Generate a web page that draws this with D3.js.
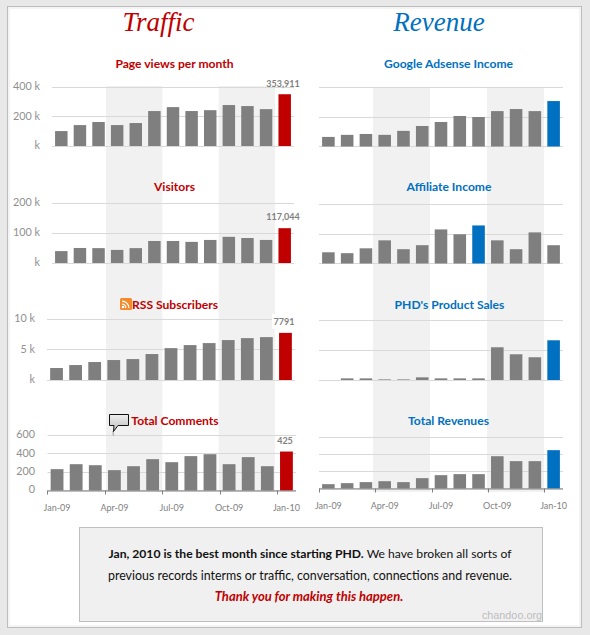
<!DOCTYPE html>
<html>
<head>
<meta charset="utf-8">
<script src="https://cdn.jsdelivr.net/npm/d3@7/dist/d3.min.js"></script>
<style>
html,body{margin:0;padding:0;background:#e8e8e8;overflow:hidden}
svg{display:block}
text{font-family:Lato,sans-serif}
.domain{display:none}
</style>
</head>
<body>
<svg id="c" width="590" height="635"></svg>
<script>
// ---------- data ----------
const months = ["Jan-09","Feb-09","Mar-09","Apr-09","May-09","Jun-09","Jul-09","Aug-09","Sep-09","Oct-09","Nov-09","Dec-09","Jan-10"];
const axisMonths = ["Jan-09","Apr-09","Jul-09","Oct-09","Jan-10"];

const pageViews   = [102000,143000,164000,143000,157000,239000,266000,239000,245000,280000,273000,252000,353911];
const visitors    = [40000,50500,50000,44000,50000,74000,74000,71000,77500,88000,84000,77500,117044];
const rss         = [1980,2470,2970,3300,3460,4290,5270,5770,6100,6600,6920,7090,7791];
const comments    = [233,287,276,222,265,342,309,375,396,287,364,265,425];
const adsense     = [65,79,85,79,106,139,166,207,200,240,254,240,308];
const affiliate   = [76,70,103,157,97,124,231,198,258,157,97,211,124];
const productSales= [0,11,11,4,4,18,11,11,11,220,173,153,267];
const totalRev    = [51,63,75,86,75,122,157,169,169,380,322,322,451];

const ticksPage = [0,200000,400000], ticksVisitors = [0,100000,200000], ticksRss = [0,5000,10000], ticksComments = [0,200,400,600];
const ticksRight2 = [0,200,400], ticksRight3 = [0,200,400,600];

const kLabel = v => v === 0 ? "k" : (v/1000) + " k";

// ---------- layout ----------
const RED="#c00000", BLUE="#0070c0", GREY="#7f7f7f", GRID="#d9d9d9", LBL="#8f8f8f";
const svg = d3.select("#c");

const panels = [
 {title:"Page views per month",cx:174.5,ty:68,vals:pageViews,ticks:ticksPage,fmt:kLabel,x0:52,x1:294,y0:146,y1:87.5,hi:12,col:RED,label:"353,911",lx:283,ly:87,tickX:40},
 {title:"Visitors",cx:174.5,ty:191,vals:visitors,ticks:ticksVisitors,fmt:kLabel,x0:52,x1:294,y0:263,y1:203.5,hi:12,col:RED,label:"117,044",lx:283,ly:220,tickX:40},
 {title:"RSS Subscribers",cx:175,ty:309,vals:rss,ticks:ticksRss,fmt:kLabel,x0:47,x1:295,y0:380,y1:319.5,hi:12,col:RED,label:"7791",lx:284,ly:325,labelBg:true,tickX:35},
 {title:"Total Comments",cx:175,ty:425,vals:comments,ticks:ticksComments,fmt:d=>d,x0:47.5,x1:296,y0:490.5,y1:435.5,hi:12,col:RED,label:"425",lx:285,ly:444,tickX:35,bottom:true,pad:14},
 {title:"Google Adsense Income",cx:448.5,ty:68,vals:adsense,ticks:ticksRight2,x0:319,x1:563,y0:146.5,y1:87.5,hi:12,col:BLUE},
 {title:"Affiliate Income",cx:449,ty:191,vals:affiliate,ticks:ticksRight2,x0:319,x1:563,y0:263.5,y1:204.5,hi:8,col:BLUE},
 {title:"PHD's Product Sales",cx:449.5,ty:309,vals:productSales,ticks:ticksRight2,x0:319,x1:563,y0:380,y1:320.5,hi:12,col:BLUE},
 {title:"Total Revenues",cx:448.5,ty:425,vals:totalRev,ticks:ticksRight3,x0:319,x1:563,y0:488.5,y1:437.5,hi:12,col:BLUE,bottom:true,pad:14}
];

// ---------- frame ----------
svg.append("rect").attr("width",590).attr("height",635).attr("fill","#e8e8e8");
svg.append("rect").attr("x",7.5).attr("y",6.5).attr("width",574).attr("height",621).attr("fill","#f4f4f4").attr("stroke","#bdbdbd");
svg.append("rect").attr("x",10).attr("y",9).attr("width",569).attr("height",616).attr("fill","#fff");

// ---------- shaded quarters ----------
[{r:[106,275],y0:86,y1:492},{r:[373,544],y0:87,y1:492}].forEach(s=>{
  const q = d3.scaleLinear().domain([3,12]).range(s.r);
  [[3,6],[9,12]].forEach(([a,b])=>svg.append("rect").attr("x",q(a)).attr("width",q(b)-q(a))
    .attr("y",s.y0).attr("height",s.y1-s.y0).attr("fill","#f1f1f1"));
});

// ---------- titles ----------
[["Traffic",158.5,RED],["Revenue",439,BLUE]].forEach(([t,x,c])=>
  svg.append("text").attr("x",x).attr("y",31).attr("text-anchor","middle").attr("fill",c)
     .style("font-family","'Liberation Serif',serif").style("font-style","italic").style("font-size","27px").text(t));

// ---------- panels ----------
panels.forEach(p=>{
  const g = svg.append("g");
  const x = d3.scaleBand().domain(months).range([p.x0,p.x1]).paddingInner(0.33).paddingOuter(0.165);
  const y = d3.scaleLinear().domain(d3.extent(p.ticks)).range([p.y0,p.y1]);

  g.append("g").selectAll("line").data(p.ticks).join("line")
    .attr("x1",p.x0).attr("x2",p.x1).attr("y1",d=>Math.floor(y(d))+.5).attr("y2",d=>Math.floor(y(d))+.5)
    .attr("stroke",GRID).attr("stroke-width",1);

  g.append("g").selectAll("rect").data(p.vals).join("rect")
    .attr("x",(d,i)=>x(months[i])).attr("width",x.bandwidth())
    .attr("y",d=>y(d)).attr("height",d=>p.y0-y(d))
    .attr("fill",(d,i)=>i===p.hi?p.col:GREY);

  if(p.fmt){
    const ay = d3.axisLeft(y).tickValues(p.ticks).tickFormat(p.fmt).tickSize(0).tickPadding(0);
    const ag = g.append("g").attr("transform",`translate(${p.tickX},-1)`).call(ay);
    ag.selectAll("text").attr("fill",LBL).style("font-family","Lato,sans-serif").style("font-size","10.8px");
  }

  g.append("text").attr("x",p.cx).attr("y",p.ty).attr("text-anchor","middle").attr("fill",p.col)
    .style("font-weight","700").style("font-size","12.1px").text(p.title);

  if(p.label){
    if(p.labelBg) g.append("rect").attr("x",272).attr("y",314).attr("width",23).attr("height",15).attr("fill","#fff");
    g.append("text").attr("x",p.lx).attr("y",p.ly).attr("text-anchor","middle").attr("fill","#7f7f7f")
      .style("font-weight","700").style("font-size","9px").text(p.label);
  }

  if(p.bottom){
    const step = x.step();
    const ax = d3.axisBottom(x).tickValues(axisMonths).tickSize(0).tickPadding(p.pad);
    const gx = g.append("g").attr("transform",`translate(0,${p.y0})`).call(ax);
    gx.selectAll("text").attr("fill",GREY).style("font-family","Lato,sans-serif").style("font-size","9px");
    g.append("line").attr("x1",p.x0).attr("x2",p.x1).attr("y1",p.y0+.5).attr("y2",p.y0+.5).attr("stroke",GREY);
    g.append("g").selectAll("line").data(axisMonths).join("line")
      .attr("x1",d=>Math.round(x(d)+x.bandwidth()/2-step/2)+.5)
      .attr("x2",d=>Math.round(x(d)+x.bandwidth()/2-step/2)+.5)
      .attr("y1",p.y0).attr("y2",p.y0+4).attr("stroke",GREY);
  }
});

// ---------- icons ----------
const rssG = svg.append("g").attr("transform","translate(120,298)");
rssG.append("rect").attr("width",12).attr("height",12).attr("rx",1.5).attr("fill","#f58a2c");
rssG.append("circle").attr("cx",3).attr("cy",9).attr("r",1.3).attr("fill","#fff");
[[2.5,4.5],[5,7.5]].forEach(([a,b])=>{
  const arc = d3.arc().innerRadius(b-1.3).outerRadius(b).startAngle(0).endAngle(Math.PI/2);
  rssG.append("path").attr("transform","translate(2,10)").attr("d",arc()).attr("fill","#fff");
});
const defs = svg.append("defs");
const lg = defs.append("linearGradient").attr("id","bub").attr("x1",0).attr("x2",0).attr("y1",0).attr("y2",1);
lg.append("stop").attr("offset",0).attr("stop-color","#f0f0f0");
lg.append("stop").attr("offset",1).attr("stop-color","#bcbcbc");
svg.append("path").attr("d",d3.line()([[113,431],[113.5,436]])).attr("stroke","#b5b5b5").attr("stroke-width",1.5).attr("fill","none");
svg.append("path").attr("d",d3.line()([[109.5,414.5],[128.5,414.5],[128.5,425.5],[118,425.5],[113.5,431.5],[114,425.5],[109.5,425.5]])+"Z")
  .attr("fill","url(#bub)").attr("stroke","#111").attr("stroke-width",1);

// ---------- note box ----------
svg.append("rect").attr("x",79.5).attr("y",527.5).attr("width",463).attr("height",94).attr("fill","#f0f0f0").attr("stroke","#bfbfbf");
const t1 = svg.append("text").attr("x",310).attr("y",558).attr("text-anchor","middle").attr("fill","#111").style("font-size","12.15px");
t1.append("tspan").style("font-weight","700").text("Jan, 2010 is the best month since starting PHD. ");
t1.append("tspan").text("We have broken all sorts of");
svg.append("text").attr("x",310).attr("y",580).attr("text-anchor","middle").attr("fill","#111").style("font-size","12.4px")
  .text("previous records interms or traffic, conversation, connections and revenue.");
svg.append("text").attr("x",309).attr("y",601).attr("text-anchor","middle").attr("fill",RED)
  .style("font-size","13px").style("font-weight","700").style("font-style","italic").text("Thank you for making this happen.");
svg.append("text").attr("x",542).attr("y",619).attr("text-anchor","end").attr("fill","#bdbdbd")
  .style("font-family","'Liberation Sans',sans-serif").style("font-size","10.8px").text("chandoo.org");
</script>
</body>
</html>
